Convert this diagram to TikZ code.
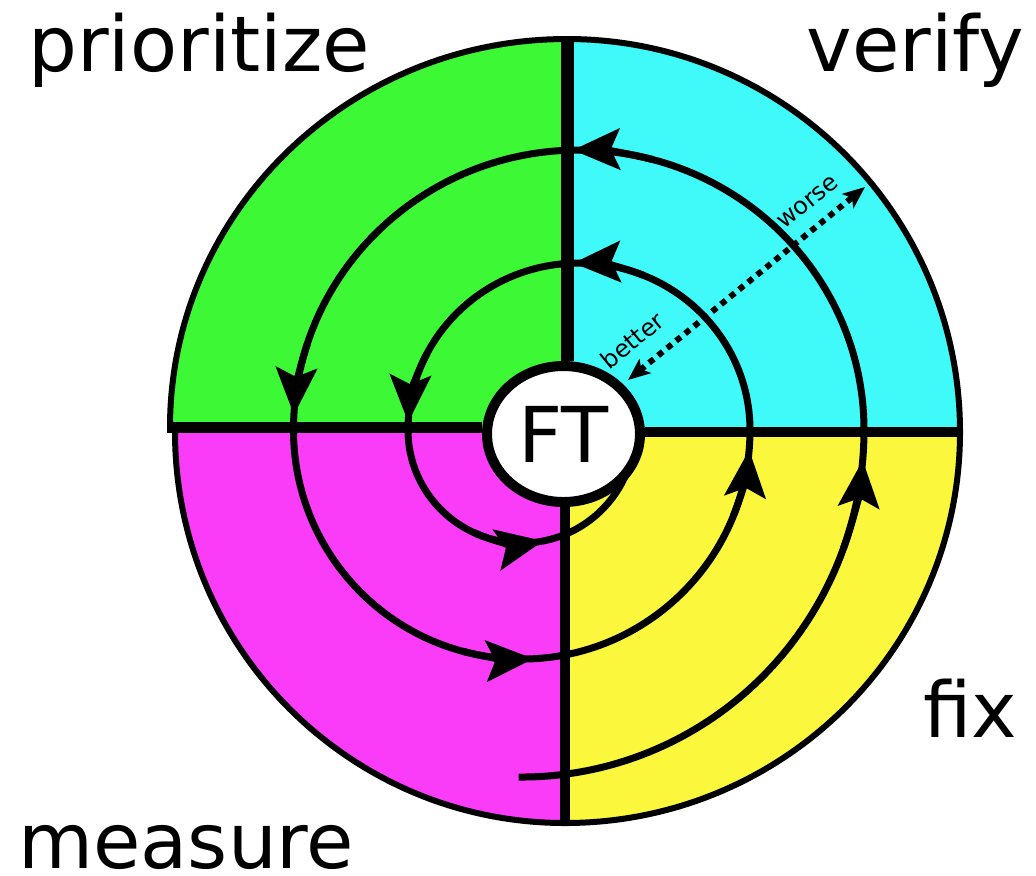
\documentclass[tikz,border=0pt]{standalone}
\usepackage{fontspec}
\setmainfont{DejaVu Sans}
\usetikzlibrary{arrows.meta,shapes.geometric}
\definecolor{qgreen}{HTML}{3CF835}
\definecolor{qcyan}{HTML}{40FAFA}
\definecolor{qmagenta}{HTML}{FA3CF8}
\definecolor{qyellow}{HTML}{FAF73C}
\begin{document}
\begin{tikzpicture}[x=0.5pt,y=0.5pt,
  rim/.style={line width=3pt},
  spiral/.style={line width=3.5pt},
  bigtip/.style={-{Stealth[length=23.5pt,width=20.5pt,inset=4.5pt]}, line width=3.5pt},
  bigtext/.style={font=\fontsize{38.5}{46}\selectfont, inner sep=0pt},
  tinytext/.style={font=\fontsize{12}{14}\selectfont, inner sep=0pt},
  dotarrow/.style={line width=3pt, dash pattern=on 3pt off 2.8pt,
    {Stealth[length=11pt,width=9pt,inset=2.5pt]}-{Stealth[length=11pt,width=9pt,inset=2.5pt]}},
]
\useasboundingbox (0,0) rectangle (1036,-875);

% quarter disks
\fill[qgreen] (567,-427.5) -- (170,-427.5) arc[start angle=180,end angle=90,x radius=397,y radius=388.5] -- cycle;
\draw[rim] (170,-427.5) arc[start angle=180,end angle=90,x radius=397,y radius=388.5];
\fill[qcyan] (567,-432) -- (960,-432) arc[start angle=0,end angle=90,x radius=393,y radius=393] -- cycle;
\draw[rim] (960,-432) arc[start angle=0,end angle=90,x radius=393,y radius=393];
\fill[qmagenta] (565,-432) -- (175,-432) arc[start angle=180,end angle=270,x radius=390,y radius=391] -- cycle;
\draw[rim] (175,-432) arc[start angle=180,end angle=270,x radius=390,y radius=391];
\fill[qyellow] (565,-432) -- (960,-432) arc[start angle=0,end angle=-90,x radius=395,y radius=391] -- cycle;
\draw[rim] (960,-432) arc[start angle=0,end angle=-90,x radius=395,y radius=391];

% spiral
\draw[spiral] (518.5,-777)
  arc[start angle=269.5,end angle=360,x radius=342.5,y radius=347]
  arc[start angle=0,end angle=180,x radius=285.25,y radius=280]
  arc[start angle=180,end angle=360,x radius=228.25,y radius=229]
  arc[start angle=0,end angle=180,x radius=171,y radius=167]
  arc[start angle=180,end angle=360,x radius=113.5,y radius=113];

% arrowheads on the spiral
\draw[bigtip] (521.5,-430) ++(340:342.5 and 347) arc[start angle=340,end angle=355,x radius=342.5,y radius=347];
\draw[bigtip] (578.75,-430) ++(75:285.25 and 280) arc[start angle=75,end angle=91.2,x radius=285.25,y radius=280];
\draw[bigtip] (578.75,-430) ++(162:285.25 and 280) arc[start angle=162,end angle=176.9,x radius=285.25,y radius=280];
\draw[bigtip] (521.75,-430) ++(255:228.25 and 229) arc[start angle=255,end angle=272.9,x radius=228.25,y radius=229];
\draw[bigtip] (521.75,-430) ++(338:228.25 and 229) arc[start angle=338,end angle=355,x radius=228.25,y radius=229];
\draw[bigtip] (579,-430) ++(68:171 and 167) arc[start angle=68,end angle=91.9,x radius=171,y radius=167];
\draw[bigtip] (579,-430) ++(153:171 and 167) arc[start angle=153,end angle=177.3,x radius=171,y radius=167];
\draw[bigtip] (521.5,-430) ++(245:113.5 and 113) arc[start angle=245,end angle=281,x radius=113.5,y radius=113];

% centre
\node[ellipse, draw, line width=5pt, fill=white, minimum width=76.5pt, minimum height=68pt,
      inner sep=0pt, font=\fontsize{38.5}{46}\selectfont] (ft) at (563.5,-434) {FT};

% dividing lines
\coordinate (ctop) at (567,-37);
\coordinate (cbot) at (565,-825);
\coordinate (cleft) at (167,-427.5);
\coordinate (cright) at (962,-432);
\draw[line width=6.5pt] (ctop) -- (ctop |- ft.north);
\draw[line width=5pt] (cbot) -- (cbot |- ft.south);
\draw[line width=5.5pt] (cleft) -- (cleft -| ft.west);
\draw[line width=5pt] (cright) -- (cright -| ft.east);

% better / worse
\coordinate (near) at (628,-380);
\coordinate (far) at (865,-187);
\draw[dotarrow] (near) -- (far)
  node[pos=0.092, sloped, above=7.9pt, tinytext] (bt) {better}
  node[pos=0.824, sloped, above=7.1pt, tinytext] (ws) {worse};

% phase labels
\node[bigtext, anchor=base west] (lp) at (28,-71) {prioritize};
\node[bigtext, anchor=base west] (lv) at (806,-71) {verify};
\node[bigtext, anchor=base west] (lf) at (923,-737) {fix};
\node[bigtext, anchor=base west] (lm) at (18,-868) {measure};
\end{tikzpicture}
\end{document}
